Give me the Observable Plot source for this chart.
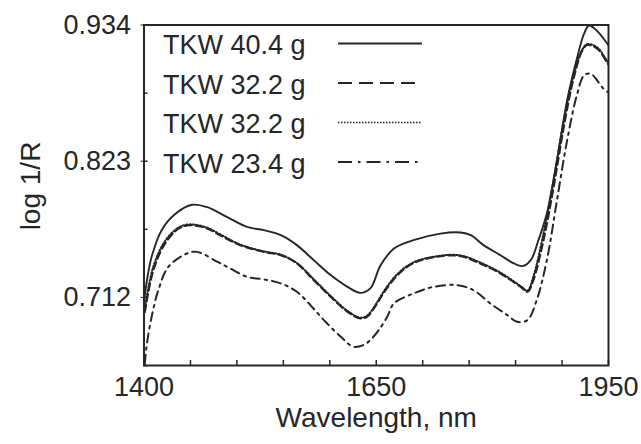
<!DOCTYPE html>
<html>
<head>
<meta charset="utf-8">
<script src="https://cdn.jsdelivr.net/npm/d3@7"></script>
<script src="https://cdn.jsdelivr.net/npm/@observablehq/plot@0.6"></script>
<style>
  html, body { margin: 0; padding: 0; background: #fff; }
  #chart svg { display: block; }
</style>
</head>
<body>
<div id="chart"></div>
<script>
// ---- Data ----
const seriesNames = ["TKW 40.4 g", "TKW 32.2 g", "TKW 32.2 g ", "TKW 23.4 g"];
const legendLabels = ["TKW 40.4 g", "TKW 32.2 g", "TKW 32.2 g", "TKW 23.4 g"];

const wl404 = [1400,1404,1409,1421,1437,1457,1475,1498,1522,1542,1562,1581,1601,1621,1641,1656,1668,1680,1696,1719,1751,1775,1787,1802,1822,1838,1848,1858,1867,1877,1889,1901,1913,1921,1927,1936,1944,1950];
const r404  = [0.708,0.728,0.745,0.767,0.780,0.7875,0.7855,0.7776,0.7694,0.7668,0.7627,0.7546,0.7424,0.7302,0.7206,0.7157,0.7193,0.738,0.7519,0.7586,0.764,0.7649,0.7627,0.7546,0.7464,0.7397,0.7375,0.7424,0.7586,0.7804,0.8237,0.8726,0.9078,0.9268,0.9336,0.9295,0.923,0.9173];

const wl322a = [1401,1411,1425,1441,1454,1474,1490,1514,1542,1562,1581,1601,1621,1641,1656,1664,1676,1684,1700,1719,1751,1775,1798,1822,1846,1854,1861,1873,1885,1897,1909,1919,1925,1937,1948,1950];
const r322a  = [0.700,0.734,0.756,0.768,0.7708,0.7684,0.7627,0.7546,0.7491,0.7464,0.7397,0.7261,0.7125,0.7003,0.6949,0.6962,0.7071,0.716,0.730,0.740,0.7456,0.7456,0.7397,0.7315,0.7206,0.7166,0.7261,0.7586,0.802,0.8508,0.8915,0.9132,0.9177,0.9146,0.9037,0.9018];

const wl322b = [1401,1411,1425,1441,1454,1474,1490,1514,1542,1562,1581,1601,1621,1641,1656,1664,1676,1684,1700,1719,1751,1775,1798,1822,1846,1854,1861,1873,1885,1897,1909,1919,1925,1937,1948,1950];
const r322b  = [0.703,0.737,0.758,0.769,0.7715,0.769,0.7635,0.755,0.7495,0.7468,0.740,0.7268,0.7132,0.701,0.6955,0.697,0.708,0.717,0.731,0.7405,0.746,0.7462,0.7405,0.7322,0.7212,0.7175,0.729,0.764,0.808,0.856,0.894,0.914,0.9185,0.9155,0.905,0.903];

const wl234 = [1401,1403,1409,1417,1429,1451,1463,1487,1502,1522,1542,1562,1581,1597,1613,1633,1648,1660,1668,1678,1688,1696,1719,1743,1771,1790,1810,1830,1842,1854,1865,1877,1889,1901,1913,1921,1929,1938,1944,1950];
const r234  = [0.658,0.672,0.696,0.718,0.737,0.7478,0.7491,0.741,0.7356,0.7288,0.7266,0.7234,0.7166,0.7057,0.6935,0.6799,0.6718,0.6732,0.6772,0.6854,0.6962,0.7071,0.7152,0.7206,0.722,0.7179,0.7071,0.6976,0.6921,0.6935,0.7098,0.7424,0.7912,0.84,0.878,0.8929,0.8943,0.8875,0.8821,0.8791];

// Axis ticks
const xTickValues = [1400, 1675, 1950];
const xTickLabels = ["1400", "1650", "1950"];
const xMinorTicks = [1400,1455,1510,1565,1620,1675,1730,1785,1840,1895,1950];
const yTickValues = [0.934, 0.823, 0.712];
const yTickLabels = ["0.934", "0.823", "0.712"];
const yMinorTicks = [0.934, 0.8785, 0.823, 0.7675, 0.712, 0.6565];

const xTitle = "Wavelength, nm";
const yTitle = "log 1/R";

// ---- Build table ----
function rows(name, xs, ys) { return xs.map((x, i) => ({series: name, x, y: ys[i]})); }
const d404 = rows(seriesNames[0], wl404, r404);
const d322a = rows(seriesNames[1], wl322a, r322a);
const d322b = rows(seriesNames[2], wl322b, r322b);
const d234 = rows(seriesNames[3], wl234, r234);

const W = 641, H = 444;
const mL = 143.5, mR = 33, mT = 24.5, mB = 79;
const frameW = W - mL - mR, frameH = H - mT - mB;
const ink = "#262626";
const font = "'Liberation Sans', Arial, Helvetica, sans-serif";

const xLabelMap = new Map(xTickValues.map((v, i) => [v, xTickLabels[i]]));
const yLabelMap = new Map(yTickValues.map((v, i) => [v, yTickLabels[i]]));

const plot = Plot.plot({
  width: W, height: H,
  marginLeft: mL, marginRight: mR, marginTop: mT, marginBottom: mB,
  style: {fontFamily: font, fontSize: "27px", color: ink, background: "#fff"},
  x: {domain: [1400, 1950]},
  y: {domain: [0.6565, 0.934]},
  marks: [
    Plot.line(d404, {x: "x", y: "y", stroke: ink, strokeWidth: 1.9, curve: "catmull-rom", clip: true}),
    Plot.line(d322a, {x: "x", y: "y", stroke: ink, strokeWidth: 2.2, strokeDasharray: "7,4", curve: "catmull-rom", clip: true}),
    Plot.line(d322b, {x: "x", y: "y", stroke: ink, strokeWidth: 2, strokeDasharray: "1.5,2", curve: "catmull-rom", clip: true}),
    Plot.line(d234, {x: "x", y: "y", stroke: ink, strokeWidth: 2, strokeDasharray: "9,5,2.5,5", curve: "catmull-rom", clip: true}),
    Plot.ruleX(xMinorTicks, {x: d => d, stroke: ink, strokeWidth: 1.5, insetTop: frameH - 5}),
    Plot.ruleY(yMinorTicks, {y: d => d, stroke: ink, strokeWidth: 1.5, insetRight: frameW - 4}),
    Plot.axisX({ticks: xTickValues, tickSize: 0, tickPadding: 11, tickFormat: d => xLabelMap.get(d), label: null, fontSize: 27}),
    Plot.axisY({ticks: yTickValues, tickSize: 3, tickPadding: 10, tickFormat: d => yLabelMap.get(d), label: null, fontSize: 27, stroke: ink}),
    Plot.text([xTitle], {text: d => d, frameAnchor: "bottom", dy: 61, fontSize: 28, fill: ink}),
    Plot.frame({stroke: ink, strokeWidth: 2})
  ]
});

const svg = d3.select(plot);

// ---- Y axis title ----
svg.append("text")
  .attr("transform", "translate(30,186) rotate(-90)")
  .attr("text-anchor", "middle")
  .attr("dy", "0.35em")
  .attr("font-family", font).attr("font-size", 28).attr("fill", ink)
  .text(yTitle);

// ---- Legend (inside the frame, top-left) ----
const legendDash = [null, "14,7", "1.5,1.5", "14,6,2.5,6"];
const legendWidth = [1.8, 2.2, 1.6, 2];
const lg = svg.append("g")
  .attr("font-family", font).attr("font-size", 27)
  .attr("fill", ink).attr("text-anchor", "start");
legendLabels.forEach((lab, i) => {
  const cy = 45 + 39.5 * i;
  lg.append("text").attr("x", 163).attr("y", cy).attr("dy", "0.35em")
    .attr("text-anchor", "start").text(lab);
  const ln = lg.append("line")
    .attr("x1", 338).attr("x2", 422)
    .attr("y1", cy - 1.5).attr("y2", cy - 1.5)
    .attr("stroke", ink).attr("stroke-width", legendWidth[i]);
  if (legendDash[i]) ln.attr("stroke-dasharray", legendDash[i]);
});

document.getElementById("chart").appendChild(plot);
</script>
</body>
</html>
